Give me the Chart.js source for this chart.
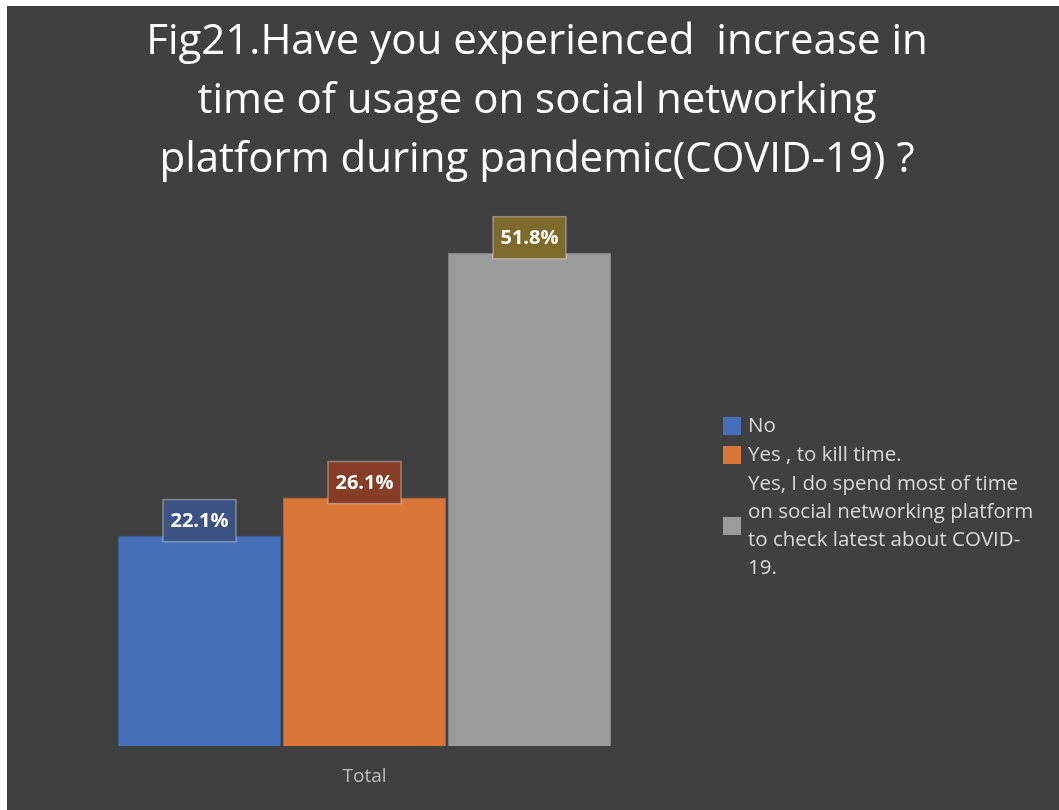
<!DOCTYPE html>
<html>
<head>
<meta charset="utf-8">
<script src="https://cdn.jsdelivr.net/npm/chart.js@4.4.0/dist/chart.umd.min.js"></script>
<style>
    html, body { margin: 0; padding: 0; background: #ffffff; }
    #quadro { position: absolute; left: 7px; top: 6px; width: 1052px; height: 804px; }
</style>
</head>
<body>
<div id="quadro"><canvas id="grafico"></canvas></div>
<script>
// Dados do gráfico
const categorias = ['Total']
const nomesSeries = [
    ['No'],
    ['Yes , to kill time.'],
    ['Yes, I do spend most of time', 'on social networking platform', 'to check latest about COVID-', '19.']
]
const valoresSeries = [22.1, 26.1, 51.8]
const coresSeries = ['#4570b8', '#d9773a', '#9b9b9b']
const coresBorda = ['#3a5f9c', '#b8622c', '#858585']
const coresRotulo = ['#3b5283', '#853d25', '#7e6a2b']
const tituloLinhas = [
    'Fig21.Have you experienced  increase in',
    'time of usage on social networking',
    'platform during pandemic(COVID-19) ?'
]

// Fundo escuro e título centralizado na figura inteira
const fundo = {
    id: 'fundo',
    beforeDraw(chart) {
        const ctx = chart.ctx
        ctx.save()
        ctx.fillStyle = '#404040'
        ctx.fillRect(0, 0, chart.width, chart.height)
        ctx.fillStyle = '#ffffff'
        ctx.font = '42px "Open Sans"'
        ctx.textAlign = 'center'
        ctx.textBaseline = 'middle'
        tituloLinhas.forEach((l, k) => ctx.fillText(l, 530, 36 + k * 59))
        ctx.restore()
    }
}

// Caixas com os valores em cima das barras
const rotulos = {
    id: 'rotulos',
    afterDatasetsDraw(chart) {
        const ctx = chart.ctx
        ctx.save()
        chart.data.datasets.forEach((ds, i) => {
            const barra = chart.getDatasetMeta(i).data[0]
            const texto = ds.data[0].toFixed(1) + '%'
            const cx = barra.x
            const cy = barra.y - 15
            const w = 73, h = 42
            ctx.fillStyle = coresRotulo[i]
            ctx.fillRect(cx - w / 2, cy - h / 2, w, h)
            ctx.strokeStyle = 'rgba(255,255,255,0.35)'
            ctx.lineWidth = 1.5
            ctx.strokeRect(cx - w / 2, cy - h / 2, w, h)
            ctx.fillStyle = '#ffffff'
            ctx.font = 'bold 20px "Open Sans"'
            ctx.textAlign = 'center'
            ctx.textBaseline = 'middle'
            ctx.fillText(texto, cx, cy + 1)
        })
        ctx.restore()
    }
}

// Legenda do lado direito (com texto em várias linhas)
const legenda = {
    id: 'legenda',
    afterDraw(chart) {
        const ctx = chart.ctx
        ctx.save()
        ctx.font = '20.5px "Open Sans"'
        ctx.textBaseline = 'middle'
        ctx.textAlign = 'left'
        const xCaixa = 716, xTexto = 741, alturaLinha = 28
        let y = 420
        chart.data.datasets.forEach((ds, i) => {
            const linhas = nomesSeries[i]
            const meio = y + (linhas.length - 1) * alturaLinha / 2
            ctx.fillStyle = coresSeries[i]
            ctx.fillRect(xCaixa, meio - 9, 18, 18)
            ctx.fillStyle = '#d9d9d9'
            linhas.forEach((l, k) => ctx.fillText(l, xTexto, y + k * alturaLinha))
            y += linhas.length * alturaLinha + 1
        })
        ctx.restore()
    }
}

const datasets = valoresSeries.map((v, i) => ({
    label: nomesSeries[i].join(' '),
    data: [v],
    backgroundColor: coresSeries[i],
    borderColor: coresBorda[i],
    borderWidth: 1,
    barPercentage: 0.99,
    categoryPercentage: 0.792
}))

const ctx = document.getElementById('grafico').getContext('2d')
new Chart(ctx, {
    type: 'bar',
    data: { labels: categorias, datasets: datasets },
    options: {
        responsive: true,
        maintainAspectRatio: false,
        animation: false,
        layout: { padding: { left: 45, right: 382, top: 180, bottom: 3 } },
        plugins: {
            legend: { display: false },
            tooltip: { enabled: false },
            title: { display: false }
        },
        scales: {
            x: {
                grid: { display: false, drawTicks: false },
                border: { display: false },
                ticks: { color: '#bfbfbf', font: { family: '"Open Sans"', size: 19 }, padding: 19 }
            },
            y: {
                display: false,
                min: 0,
                max: 58.8
            }
        }
    },
    plugins: [fundo, rotulos, legenda]
})
</script>
</body>
</html>
